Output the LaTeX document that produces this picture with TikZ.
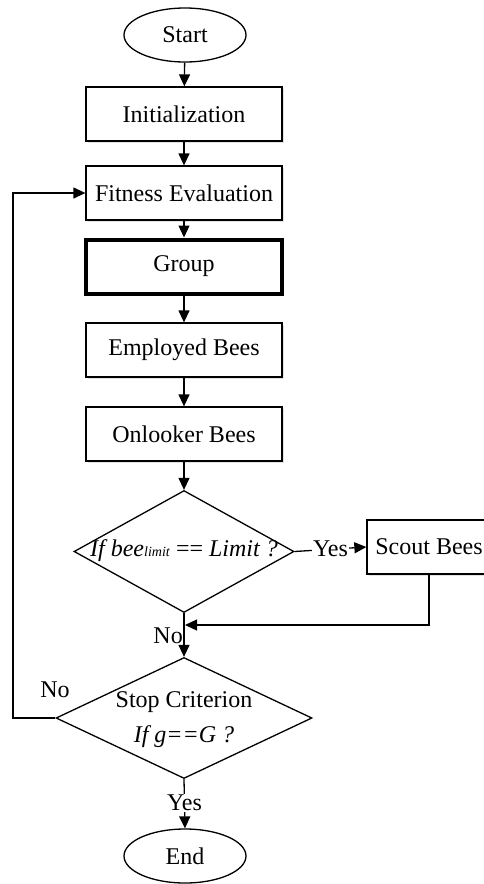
\documentclass[tikz,border=0pt]{standalone}
\usepackage{fontspec}
\setmainfont{Liberation Serif}
\usetikzlibrary{shapes.geometric,arrows.meta,shadows}

\begin{document}
\begin{tikzpicture}[x=1pt,y=-1pt,
  every node/.style={font=\fontsize{24}{35}\selectfont},
  line/.style={line width=1.3pt},
  arr/.style={line, -{Triangle[length=12pt,width=11pt]}},
  shade/.style={drop shadow={opacity=0.22,shadow xshift=1.5pt,shadow yshift=-1.5pt}},
  procbox/.style={draw, line width=1.3pt, fill=white, shade, rectangle,
                  minimum width=196pt, minimum height=54pt, inner sep=0pt},
  groupbox/.style={procbox, line width=4pt},
  terminal/.style={draw, line width=1.3pt, fill=white, ellipse,
                   minimum width=122pt, minimum height=54pt, inner sep=0pt},
  decision/.style={draw, line width=1.3pt, fill=white, diamond, inner sep=0pt},
  lbl/.style={fill=white, inner sep=1pt}
]
\useasboundingbox (0,0) rectangle (483,884);

% main chain
\node[terminal] (start) at (185,35) {Start};
\node[procbox] (init)  at (184,114) {Initialization};
\node[procbox] (fit)   at (184,193) {Fitness Evaluation};
\node[groupbox] (grp)  at (184,266.5) {Group};
\node[procbox] (emp)   at (184,350) {Employed Bees};
\node[procbox] (onl)   at (184,434) {Onlooker Bees};

% limit test and scout phase
\node[decision, minimum width=220pt, minimum height=122pt] (d1) at (184,551.5) {};
\node (d1text) at (184,551) {\textit{If bee}{\fontsize{14}{16}\selectfont\textit{limit}} == \textit{Limit ?}};
\node[procbox, minimum width=124pt] (scout) at (429,547) {Scout Bees};

% termination test
\node[decision, minimum width=256pt, minimum height=121pt] (d2) at (184,718) {};
\node[align=center] (d2text) at (184,720) {Stop Criterion\\\textit{If g==G ?}};

\node[terminal] (end) at (185,856) {End};

% connectors
\draw[arr] (start) -- (init);
\draw[arr] (init) -- (fit);
\draw[arr] (fit) -- (grp);
\draw[arr] (grp) -- (emp);
\draw[arr] (emp) -- (onl);
\draw[arr] (onl) -- (d1.north);

\draw[arr] (d1.east) -- node[lbl] (yes1) {Yes} (scout.west);
\coordinate (merge) at (185,625);
\draw[arr] (scout.south) |- (merge);
\draw[arr] (d1.south) -- (d2.north);
\node[anchor=east, inner sep=0pt] (no1) at (183,636) {No};

\coordinate (loopc) at (13,718);
\draw[arr] (d2.west) -- (loopc) |- (fit.west);
\node (no2) at (55,690) {No};

\draw[arr] (d2.south) -- node[lbl, pos=0.48] (yes2) {Yes} (end.north);
\end{tikzpicture}
\end{document}
